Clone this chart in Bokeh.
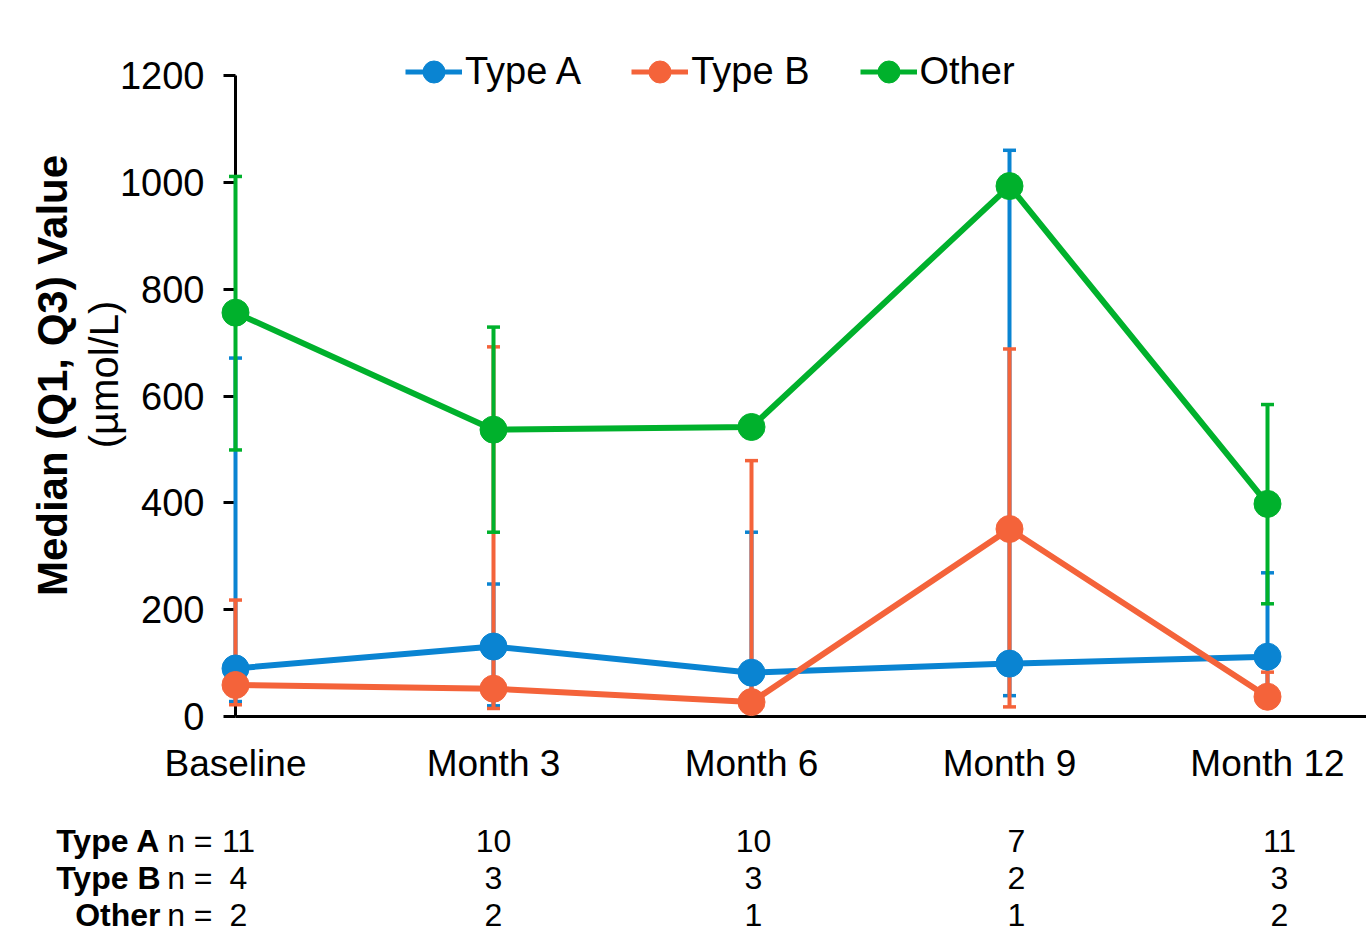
import numpy as np
from bokeh.plotting import figure
from bokeh.models import Range1d, FixedTicker, Legend, LegendItem
from bokeh.core.properties import value
from bokeh.embed import file_html
from bokeh.resources import INLINE

# ---------------- data ----------------
categories = ["Baseline", "Month 3", "Month 6", "Month 9", "Month 12"]
series_names = ["Type A", "Type B", "Other"]
type_a_median = [90, 131, 82, 99, 112]
type_a_q1 = [28, 20, 40, 39, 40]
type_a_q3 = [671, 248, 345, 1060, 269]
type_b_median = [59, 52, 27, 351, 37]
type_b_q1 = [22, 15, 10, 18, 20]
type_b_q3 = [218, 692, 479, 688, 83]
other_median = [756, 537, 542, 993, 398]
other_q1 = [499, 345, None, None, 211]
other_q3 = [1011, 729, None, None, 584]
n_type_a = [11, 10, 10, 7, 11]
n_type_b = [4, 3, 3, 2, 3]
n_other = [2, 2, 1, 1, 2]
y_ticks = [0, 200, 400, 600, 800, 1000, 1200]

colors = ["#0A84D2", "#F4633A", "#00B12C"]
FONT = "Liberation Sans"

xs = list(range(len(categories)))

# ---------------- layout (pixels) ----------------
W, H = 1366, 940
FRAME_LEFT, FRAME_BOTTOM = 235, 716
AXIS_TOP = 75          # pixel row of the top tick (1200)
FRAME_TOP = 40         # frame extended upward to hold the legend
CAT_SPACING = 258
frame_w = W - FRAME_LEFT
ppu = (FRAME_BOTTOM - AXIS_TOP) / (y_ticks[-1] - y_ticks[0])
y_end = y_ticks[-1] + (AXIS_TOP - FRAME_TOP) / ppu

p = figure(width=W, height=H, output_backend="svg", toolbar_location=None,
           x_range=Range1d(0, frame_w / CAT_SPACING), y_range=Range1d(0, y_end),
           min_border_left=FRAME_LEFT, min_border_right=0, min_border_top=FRAME_TOP,
           min_border_bottom=H - FRAME_BOTTOM)
p.outline_line_color = None
p.xgrid.visible = False
p.ygrid.visible = False

# axes
xa = p.xaxis[0]
xa.ticker = FixedTicker(ticks=xs)
xa.major_label_overrides = {i: c for i, c in enumerate(categories)}
xa.major_tick_line_color = None
xa.minor_tick_line_color = None
xa.axis_line_width = 3
xa.axis_line_color = "black"
xa.major_label_text_font = FONT
xa.major_label_text_font_size = "37px"
xa.major_label_text_color = "black"
xa.major_label_standoff = 20

ya = p.yaxis[0]
ya.ticker = FixedTicker(ticks=y_ticks)
ya.minor_tick_line_color = None
ya.major_tick_in = 0
ya.major_tick_out = 12
ya.major_tick_line_width = 3
ya.major_tick_line_color = "black"
ya.axis_line_color = None
ya.major_label_text_font = FONT
ya.major_label_text_font_size = "38px"
ya.major_label_text_color = "black"
ya.major_label_standoff = 19

# y axis line only spanning the tick range
p.segment(x0=[0], y0=[y_ticks[0]], x1=[0], y1=[y_ticks[-1]], line_color="black",
          line_width=3, level="overlay")

medians = [type_a_median, type_b_median, other_median]
q1s = [type_a_q1, type_b_q1, other_q1]
q3s = [type_a_q3, type_b_q3, other_q3]

# error bars
for lo, hi, c in zip(q1s, q3s, colors):
    lo_a = np.array(lo, dtype=float)
    hi_a = np.array(hi, dtype=float)
    p.segment(x0=xs, y0=lo_a, x1=xs, y1=hi_a, line_color=c, line_width=4, level="overlay")
    p.scatter(x=xs + xs, y=np.concatenate([lo_a, hi_a]), marker="dash", size=13,
              line_color=c, line_width=3.5, level="overlay")

# lines + markers
for med, c in zip(medians, colors):
    p.line(x=xs, y=med, line_color=c, line_width=6, level="overlay")
    p.scatter(x=xs, y=med, size=27, fill_color=c, line_color=c, level="overlay")

# legend (legend-only renderers, nothing drawn in the plot)
items = []
for name, c in zip(series_names, colors):
    lr = p.line(x=[np.nan], y=[np.nan], line_color=c, line_width=5)
    ls = p.scatter(x=[np.nan], y=[np.nan], size=22, fill_color=c, line_color=c)
    items.append(LegendItem(label=name, renderers=[lr, ls]))
legend = Legend(items=items, orientation="horizontal", location=(170, 617),
                glyph_width=57, glyph_height=55, label_standoff=3, spacing=50,
                padding=0, margin=0, border_line_color=None, background_fill_alpha=0,
                label_text_font=FONT, label_text_font_size="38px", label_text_color="black")
p.add_layout(legend)

# y axis titles (text glyphs anchored at the frame's bottom-left, offset in px)
p.text(x=[0], y=[0], text=["Median (Q1, Q3) Value"], x_offset=52 - FRAME_LEFT,
       y_offset=375 - FRAME_BOTTOM, angle=np.pi / 2, text_align="center",
       text_baseline="middle", text_font=value(FONT), text_font_style="bold",
       text_font_size="42px", text_color="black", level="overlay")
p.text(x=[0], y=[0], text=["(µmol/L)"], x_offset=103 - FRAME_LEFT,
       y_offset=374 - FRAME_BOTTOM, angle=np.pi / 2, text_align="center",
       text_baseline="middle", text_font=value(FONT), text_font_size="40px",
       text_color="black", level="overlay")

# n table under the axis
row_rows = [840, 877, 914]
col_offsets = [3, 0, 2, 7, 12]
for name, counts, row in zip(series_names, [n_type_a, n_type_b, n_other], row_rows):
    dy = row - FRAME_BOTTOM
    p.text(x=[0], y=[0], text=[name], x_offset=160 - FRAME_LEFT, y_offset=dy,
           text_align="right", text_baseline="middle", text_font=value(FONT),
           text_font_style="bold", text_font_size="32px", text_color="black", level="overlay")
    p.text(x=[0], y=[0], text=["n ="], x_offset=212 - FRAME_LEFT, y_offset=dy,
           text_align="right", text_baseline="middle", text_font=value(FONT),
           text_font_size="32px", text_color="black", level="overlay")
    p.text(x=xs, y=[0] * len(xs), text=[str(v) for v in counts], x_offset=col_offsets,
           y_offset=dy, text_align="center", text_baseline="middle", text_font=value(FONT),
           text_font_size="32px", text_color="black", level="overlay")

open("out.html", "w").write(file_html(p, INLINE))
